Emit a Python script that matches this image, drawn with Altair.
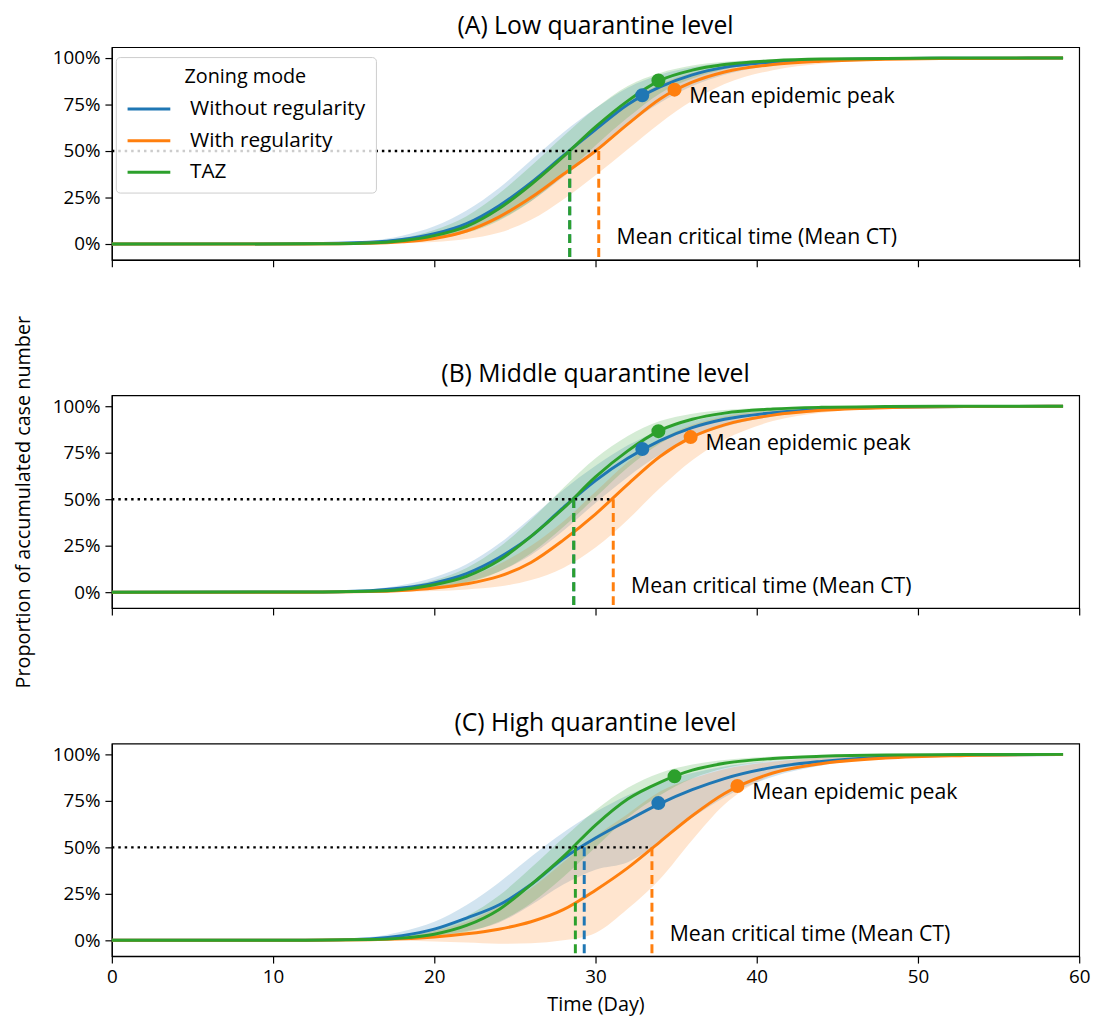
import altair as alt
import pandas as pd

FONT = "Open Sans"
W, H = 978, 215

days = [0, 12, 16, 18, 20, 22, 24, 26, 28, 30, 32, 34, 36, 38, 41, 44, 48, 53, 59]
modes = ["Without regularity", "With regularity", "TAZ"]
colors = ["#1f77b4", "#ff7f0e", "#2ca02c"]
panel_titles = ["(A) Low quarantine level", "(B) Middle quarantine level", "(C) High quarantine level"]
x_ticks = [0, 10, 20, 30, 40, 50, 60]
y_ticks = [0, 0.25, 0.5, 0.75, 1.0]

# (A) Low quarantine level
low_blue_mean = [0, 0.001, 0.009, 0.024, 0.055, 0.11, 0.205, 0.33, 0.475, 0.615, 0.75, 0.845, 0.91, 0.95, 0.978, 0.99, 0.997, 0.999, 1.0]
low_blue_lo = [0, 0.0, 0.004, 0.012, 0.03, 0.065, 0.13, 0.23, 0.36, 0.5, 0.64, 0.76, 0.85, 0.91, 0.96, 0.982, 0.994, 0.998, 1.0]
low_blue_hi = [0, 0.003, 0.018, 0.045, 0.095, 0.18, 0.3, 0.45, 0.6, 0.73, 0.84, 0.91, 0.95, 0.975, 0.99, 0.996, 0.999, 1.0, 1.0]
low_orange_mean = [0, 0.0, 0.004, 0.012, 0.03, 0.07, 0.145, 0.25, 0.375, 0.5, 0.645, 0.78, 0.87, 0.925, 0.965, 0.983, 0.994, 0.998, 1.0]
low_orange_lo = [0, 0.0, 0.001, 0.004, 0.011, 0.027, 0.06, 0.13, 0.24, 0.37, 0.51, 0.65, 0.77, 0.86, 0.935, 0.97, 0.99, 0.997, 1.0]
low_orange_hi = [0, 0.001, 0.008, 0.022, 0.05, 0.11, 0.21, 0.34, 0.48, 0.62, 0.76, 0.86, 0.92, 0.955, 0.98, 0.991, 0.997, 0.999, 1.0]
low_green_mean = [0, 0.001, 0.006, 0.018, 0.045, 0.095, 0.19, 0.32, 0.47, 0.63, 0.77, 0.88, 0.935, 0.965, 0.986, 0.995, 0.998, 1.0, 1.0]
low_green_lo = [0, 0.0, 0.003, 0.01, 0.027, 0.06, 0.125, 0.23, 0.37, 0.53, 0.68, 0.81, 0.89, 0.94, 0.975, 0.99, 0.997, 0.999, 1.0]
low_green_hi = [0, 0.002, 0.012, 0.032, 0.075, 0.15, 0.27, 0.42, 0.58, 0.73, 0.85, 0.92, 0.96, 0.98, 0.993, 0.997, 0.999, 1.0, 1.0]

# (B) Middle quarantine level
mid_blue_mean = [0, 0.001, 0.008, 0.022, 0.05, 0.1, 0.185, 0.3, 0.455, 0.6, 0.72, 0.815, 0.885, 0.93, 0.965, 0.983, 0.994, 0.998, 1.0]
mid_blue_lo = [0, 0.0, 0.003, 0.01, 0.025, 0.055, 0.11, 0.2, 0.33, 0.48, 0.62, 0.74, 0.83, 0.89, 0.945, 0.972, 0.99, 0.997, 1.0]
mid_blue_hi = [0, 0.003, 0.015, 0.038, 0.08, 0.15, 0.26, 0.4, 0.55, 0.68, 0.79, 0.87, 0.92, 0.955, 0.98, 0.99, 0.997, 0.999, 1.0]
mid_orange_mean = [0, 0.0, 0.003, 0.009, 0.022, 0.045, 0.085, 0.16, 0.28, 0.42, 0.58, 0.73, 0.835, 0.9, 0.952, 0.978, 0.992, 0.998, 1.0]
mid_orange_lo = [0, 0.0, 0.0, 0.002, 0.006, 0.015, 0.03, 0.065, 0.13, 0.24, 0.39, 0.56, 0.71, 0.82, 0.92, 0.965, 0.988, 0.997, 1.0]
mid_orange_hi = [0, 0.001, 0.006, 0.017, 0.04, 0.08, 0.15, 0.25, 0.38, 0.54, 0.7, 0.82, 0.9, 0.945, 0.975, 0.99, 0.997, 0.999, 1.0]
mid_green_mean = [0, 0.001, 0.005, 0.015, 0.04, 0.085, 0.17, 0.3, 0.45, 0.62, 0.76, 0.87, 0.93, 0.963, 0.985, 0.994, 0.998, 1.0, 1.0]
mid_green_lo = [0, 0.0, 0.002, 0.008, 0.022, 0.05, 0.11, 0.21, 0.35, 0.51, 0.67, 0.8, 0.88, 0.935, 0.972, 0.988, 0.996, 0.999, 1.0]
mid_green_hi = [0, 0.002, 0.01, 0.028, 0.065, 0.13, 0.24, 0.39, 0.56, 0.72, 0.84, 0.92, 0.96, 0.98, 0.992, 0.997, 0.999, 1.0, 1.0]

# (C) High quarantine level
high_blue_mean = [0, 0.001, 0.008, 0.025, 0.06, 0.12, 0.19, 0.3, 0.44, 0.55, 0.645, 0.735, 0.81, 0.87, 0.93, 0.962, 0.986, 0.996, 1.0]
high_blue_lo = [0, 0.0, 0.003, 0.01, 0.025, 0.05, 0.095, 0.19, 0.3, 0.38, 0.42, 0.53, 0.66, 0.77, 0.88, 0.94, 0.98, 0.995, 1.0]
high_blue_hi = [0, 0.003, 0.018, 0.048, 0.1, 0.19, 0.31, 0.45, 0.58, 0.69, 0.78, 0.85, 0.9, 0.935, 0.965, 0.983, 0.994, 0.999, 1.0]
high_orange_mean = [0, 0.0, 0.003, 0.008, 0.018, 0.035, 0.06, 0.1, 0.165, 0.27, 0.39, 0.53, 0.67, 0.79, 0.9, 0.95, 0.98, 0.994, 1.0]
high_orange_lo = [0, 0.0, 0.0, -0.002, -0.006, -0.012, -0.018, -0.015, 0.0, 0.04, 0.17, 0.33, 0.54, 0.73, 0.89, 0.95, 0.985, 0.996, 1.0]
high_orange_hi = [0, 0.001, 0.008, 0.022, 0.05, 0.1, 0.18, 0.28, 0.42, 0.56, 0.68, 0.8, 0.87, 0.92, 0.96, 0.982, 0.993, 0.998, 1.0]
high_green_mean = [0, 0.001, 0.004, 0.012, 0.033, 0.08, 0.165, 0.3, 0.45, 0.62, 0.76, 0.85, 0.915, 0.952, 0.978, 0.99, 0.997, 0.999, 1.0]
high_green_lo = [0, 0.0, 0.002, 0.006, 0.018, 0.045, 0.1, 0.2, 0.34, 0.5, 0.66, 0.78, 0.87, 0.925, 0.965, 0.985, 0.995, 0.999, 1.0]
high_green_hi = [0, 0.002, 0.008, 0.025, 0.06, 0.13, 0.24, 0.39, 0.55, 0.7, 0.82, 0.9, 0.945, 0.97, 0.988, 0.995, 0.999, 1.0, 1.0]

# Mean critical time (day reaching 50%) per mode: blue, orange, green
ct_low = [28.4, 30.2, 28.4]
ct_mid = [28.65, 31.1, 28.65]
ct_high = [29.3, 33.5, 28.75]

# Mean epidemic peak (day, proportion) per mode
peak_day_low = [32.9, 34.9, 33.9]
peak_val_low = [0.80, 0.83, 0.879]
peak_day_mid = [32.9, 35.9, 33.9]
peak_val_mid = [0.77, 0.834, 0.866]
peak_day_high = [33.9, 38.8, 34.9]
peak_val_high = [0.738, 0.83, 0.882]

panels = [
    [(low_blue_mean, low_blue_lo, low_blue_hi), (low_orange_mean, low_orange_lo, low_orange_hi), (low_green_mean, low_green_lo, low_green_hi)],
    [(mid_blue_mean, mid_blue_lo, mid_blue_hi), (mid_orange_mean, mid_orange_lo, mid_orange_hi), (mid_green_mean, mid_green_lo, mid_green_hi)],
    [(high_blue_mean, high_blue_lo, high_blue_hi), (high_orange_mean, high_orange_lo, high_orange_hi), (high_green_mean, high_green_lo, high_green_hi)],
]
cts = [ct_low, ct_mid, ct_high]
peaks = [(peak_day_low, peak_val_low), (peak_day_mid, peak_val_mid), (peak_day_high, peak_val_high)]

xs = alt.Scale(domain=[0, 60], nice=False, zero=False)
ys = alt.Scale(domain=[-0.085, 1.0585], nice=False, zero=False)
cscale = alt.Scale(domain=modes, range=colors)


def make_panel(idx):
    curves = panels[idx]
    ct = cts[idx]
    pday, pval = peaks[idx]
    if idx == 2:
        xaxis = alt.Axis(values=x_ticks, labels=True, title="Time (Day)", titlePadding=8)
    else:
        xaxis = alt.Axis(values=x_ticks, labels=False, title=None)
    if idx == 1:
        yaxis = alt.Axis(values=y_ticks, format=".0%", title="Proportion of accumulated case number", titlePadding=19)
    else:
        yaxis = alt.Axis(values=y_ticks, format=".0%", title=None)
    X = lambda f: alt.X(f, scale=xs, axis=xaxis)
    Y = lambda f: alt.Y(f, scale=ys, axis=yaxis)

    if idx == 0:
        legend = alt.Legend(
            title="Zoning mode", orient="none", legendX=4, legendY=10,
            symbolType="M-1.8,0H1.8", symbolSize=576, symbolStrokeWidth=3,
            symbolOffset=10, labelOffset=28, padding=10, titlePadding=9, rowPadding=8,
            fillColor="rgba(255,255,255,0.8)", strokeColor="#cccccc", cornerRadius=4,
            titleAnchor="middle", labelFontSize=21, titleFontSize=20, labelLimit=400,
            titleFontWeight="normal", labelFont=FONT, titleFont=FONT,
            labelColor="black", titleColor="black",
        )
    else:
        legend = None

    areas, lines, rules, dots = [], [], [], []
    for m in range(3):
        mean, lo, hi = curves[m]
        dfm = pd.DataFrame({"day": days, "mean": mean, "lo": lo, "hi": hi, "mode": modes[m]})
        areas.append(
            alt.Chart(dfm).mark_area(color=colors[m], opacity=0.2, interpolate="monotone")
            .encode(x=X("day:Q"), y=Y("lo:Q"), y2="hi:Q")
        )
        lines.append(
            alt.Chart(dfm).mark_line(strokeWidth=3, interpolate="monotone")
            .encode(x=X("day:Q"), y=Y("mean:Q"),
                    color=alt.Color("mode:N", scale=cscale, legend=legend))
        )
        dct = pd.DataFrame({"ct": [ct[m]], "half": [0.5]})
        rules.append(
            alt.Chart(dct).mark_rule(color=colors[m], strokeWidth=3, strokeDash=[9, 5])
            .encode(x=X("ct:Q"), y=Y("half:Q"), y2=alt.value(H))
        )
        dpk = pd.DataFrame({"pday": [pday[m]], "pval": [pval[m]]})
        dots.append(
            alt.Chart(dpk).mark_circle(color=colors[m], size=200, opacity=1)
            .encode(x=X("pday:Q"), y=Y("pval:Q"))
        )

    ddot = pd.DataFrame({"x0": [0], "x1": [max(ct)], "y": [0.5]})
    dotted = alt.Chart(ddot).mark_rule(color="black", strokeWidth=2.5, strokeDash=[2.5, 4]).encode(
        x=X("x0:Q"), x2="x1:Q", y=Y("y:Q"))

    dtxt = pd.DataFrame({"pday": [pday[1]], "pval": [pval[1]], "ct": [ct[1]], "ylab": [0.03]})
    txt_peak = alt.Chart(dtxt).mark_text(align="left", baseline="middle", dx=15, dy=7,
                                         font=FONT, fontSize=21.5, color="black").encode(
        x=X("pday:Q"), y=Y("pval:Q"), text=alt.value("Mean epidemic peak"))
    txt_ct = alt.Chart(dtxt).mark_text(align="left", baseline="middle", dx=18,
                                       font=FONT, fontSize=21.5, color="black").encode(
        x=X("ct:Q"), y=Y("ylab:Q"), text=alt.value("Mean critical time (Mean CT)"))

    dtitle = pd.DataFrame({"title": [panel_titles[idx]]})
    title = alt.Chart(dtitle).mark_text(align="center", baseline="middle", font=FONT,
                                        fontSize=25, color="black").encode(
        x=alt.value(W / 2), y=alt.value(-21), text="title:N")

    return alt.layer(*areas, *lines, dotted, *rules, *dots, txt_peak, txt_ct, title).properties(
        width=W, height=H)


chart = (
    alt.vconcat(make_panel(0), make_panel(1), make_panel(2), spacing=137, bounds="flush")
    .resolve_scale(color="independent")
    .properties(padding={"left": 5, "top": 0, "right": 5, "bottom": 5})
    .configure_view(stroke="black", strokeWidth=1.2)
    .configure_axis(grid=False, domainColor="black", domainWidth=1.2, tickColor="black",
                    tickWidth=1.2, tickSize=7, labelColor="black", labelFont=FONT,
                    labelFontSize=19, labelPadding=5, labelFlush=False, titleFont=FONT,
                    titleFontSize=20, titleFontWeight="normal", titleColor="black")
)

chart.save("out.html", embed_options={"renderer": "svg", "actions": False})
